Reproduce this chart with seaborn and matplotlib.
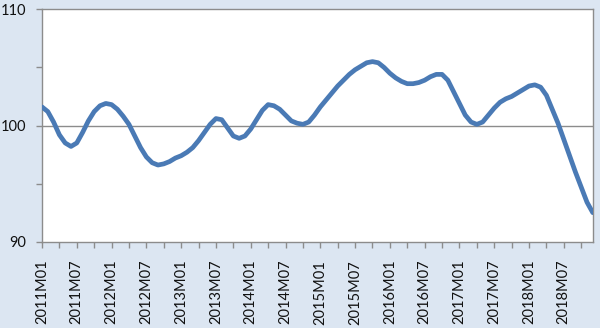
import matplotlib
matplotlib.use("Agg")
import matplotlib.pyplot as plt
import seaborn as sns
import pandas as pd
from matplotlib.ticker import FixedLocator, MultipleLocator

years = [2011, 2012, 2013, 2014, 2015, 2016, 2017, 2018]
values = [
    101.6, 101.2, 100.3, 99.2, 98.5, 98.2, 98.5, 99.4, 100.4, 101.2, 101.7, 101.9,
    101.8, 101.4, 100.8, 100.1, 99.1, 98.1, 97.3, 96.8, 96.6, 96.7, 96.9, 97.2,
    97.4, 97.7, 98.1, 98.7, 99.4, 100.1, 100.6, 100.5, 99.8, 99.1, 98.9, 99.1,
    99.7, 100.5, 101.3, 101.8, 101.7, 101.4, 100.9, 100.4, 100.2, 100.1, 100.3, 100.9,
    101.6, 102.2, 102.8, 103.4, 103.9, 104.4, 104.8, 105.1, 105.4, 105.5, 105.4, 105.0,
    104.5, 104.1, 103.8, 103.6, 103.6, 103.7, 103.9, 104.2, 104.4, 104.4, 103.9, 102.9,
    101.9, 100.9, 100.3, 100.1, 100.3, 100.9, 101.5, 102.0, 102.3, 102.5, 102.8, 103.1,
    103.4, 103.5, 103.3, 102.6, 101.4, 100.2, 98.8, 97.4, 96.0, 94.7, 93.4, 92.5,
]
periods = [f"{y}M{m:02d}" for y in years for m in range(1, 13)]
tick_labels = ["2011M01", "2011M07", "2012M01", "2012M07", "2013M01", "2013M07",
               "2014M01", "2014M07", "2015M01", "2015M07", "2016M01", "2016M07",
               "2017M01", "2017M07", "2018M01", "2018M07"]
y_ticks = [90, 100, 110]

df = pd.DataFrame({"period": periods, "value": values})
df["idx"] = range(len(df))

sns.set_theme(style="white")
plt.rcParams["font.family"] = ["Lato", "DejaVu Sans"]

bg = "#dce6f2"
fig = plt.figure(figsize=(6.0, 3.28), dpi=100, facecolor=bg)
ax = fig.add_axes([0.07, 0.263, 0.918, 0.7086])
ax.set_facecolor("white")

ax.axhline(100, color="#8c8c8c", lw=1.0, zorder=1)
sns.lineplot(data=df, x="idx", y="value", ax=ax, color="#4a7ab5", lw=3.4, zorder=3)

ax.set_xlim(0, len(df) - 1)
ax.set_ylim(90, 110)

pos = [periods.index(t) for t in tick_labels]
ax.set_xticks(pos)
ax.set_xticklabels(tick_labels, rotation=90, fontsize=10.5, color="#111111")
ax.xaxis.set_minor_locator(MultipleLocator(3))
ax.set_yticks(y_ticks)
ax.set_yticklabels([str(v) for v in y_ticks], fontsize=10.5, color="#111111")
ax.yaxis.set_minor_locator(FixedLocator([95, 105]))

ax.tick_params(axis="x", which="both", direction="out", length=4, width=1,
               color="#8c8c8c", bottom=True, pad=9)
ax.tick_params(axis="y", which="both", direction="out", length=4, width=1,
               color="#8c8c8c", left=True, pad=7.5)
for s in ax.spines.values():
    s.set_color("#8c8c8c")
    s.set_linewidth(1.0)
ax.set_xlabel("")
ax.set_ylabel("")

fig.savefig("out.png", dpi=100, facecolor=bg)
